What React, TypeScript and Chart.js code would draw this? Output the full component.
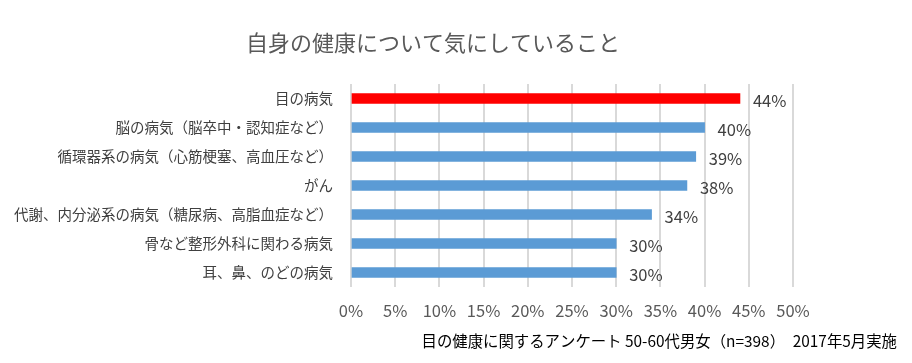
import React, { useEffect, useRef } from "react";
import { Chart, registerables } from "chart.js";

Chart.register(...registerables);

const categories = [
  "目の病気",
  "脳の病気（脳卒中・認知症など）",
  "循環器系の病気（心筋梗塞、高血圧など）",
  "がん",
  "代謝、内分泌系の病気（糖尿病、高脂血症など）",
  "骨など整形外科に関わる病気",
  "耳、鼻、のどの病気",
];
const values = [44, 40, 39, 38, 34, 30, 30];
const barColors = ["#FF0000", "#5B9BD5", "#5B9BD5", "#5B9BD5", "#5B9BD5", "#5B9BD5", "#5B9BD5"];
const titleText = "自身の健康について気にしていること";
const footerText = "目の健康に関するアンケート 50-60代男女（n=398）　2017年5月実施";

const FONT = "'Noto Sans CJK JP', 'Noto Sans', sans-serif";

const textPlugin = {
  id: "texts",
  afterDraw(chart: any) {
    const ctx = chart.ctx;
    ctx.save();
    // title
    ctx.fillStyle = "#595959";
    ctx.font = `22px ${FONT}`;
    ctx.textAlign = "center";
    ctx.textBaseline = "middle";
    ctx.fillText(titleText, 433, 43);
    // footer
    ctx.fillStyle = "#000000";
    ctx.font = `15.4px ${FONT}`;
    ctx.textAlign = "right";
    ctx.fillText(footerText, 897, 341);
    // data labels
    const meta = chart.getDatasetMeta(0);
    ctx.fillStyle = "#404040";
    ctx.font = `16.5px ${FONT}`;
    ctx.textAlign = "left";
    meta.data.forEach((bar: any, i: number) => {
      ctx.fillText(values[i] + "%", bar.x + 13, bar.y + 2);
    });
    ctx.restore();
  },
};

export default function App() {
  const ref = useRef<HTMLCanvasElement>(null);
  useEffect(() => {
    document.body.style.margin = "0";
    const chart = new Chart(ref.current!, {
      type: "bar",
      data: {
        labels: categories,
        datasets: [
          {
            data: values,
            backgroundColor: barColors,
            barThickness: 10,
          },
        ],
      },
      options: {
        indexAxis: "y",
        animation: false,
        responsive: false,
        maintainAspectRatio: false,
        layout: { padding: { top: 84, right: 119, bottom: 0, left: 0 } },
        plugins: {
          legend: { display: false },
          tooltip: { enabled: false },
          title: { display: false },
        },
        scales: {
          x: {
            min: 0,
            max: 50,
            border: { display: false },
            grid: { color: "#d9d9d9", lineWidth: 2, drawTicks: false },
            ticks: {
              stepSize: 5,
              padding: 14,
              color: "#595959",
              font: { family: FONT, size: 16.5 },
              callback: (v: any) => v + "%",
            },
            afterFit: (s: any) => {
              s.height = 363 - 287;
            },
          },
          y: {
            border: { display: false },
            grid: { display: false, drawTicks: false },
            ticks: {
              padding: 18,
              color: "#404040",
              font: { family: FONT, size: 14.5 },
            },
            afterFit: (s: any) => {
              s.width = 351;
            },
          },
        },
      },
      plugins: [textPlugin],
    });
    return () => chart.destroy();
  }, []);
  return (
    <div style={{ width: 912, height: 363, background: "#fff" }}>
      <canvas ref={ref} width={912} height={363} />
    </div>
  );
}
